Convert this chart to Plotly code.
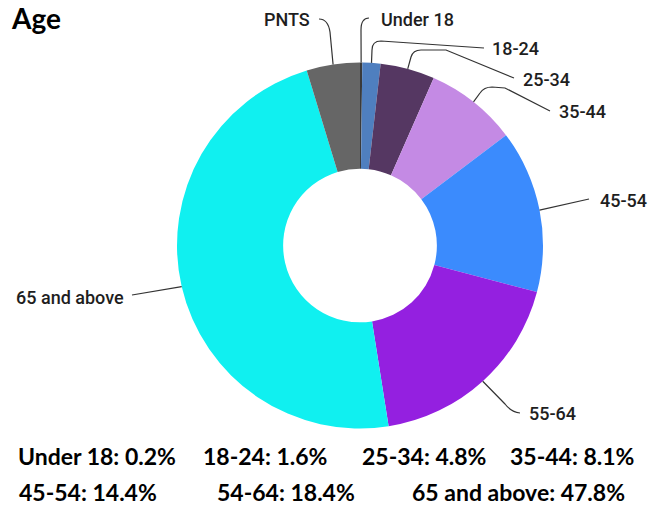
import math
import plotly.graph_objects as go

# ---- data ----
categories = ["Under 18", "18-24", "25-34", "35-44", "45-54", "55-64", "65 and above", "PNTS"]
values = [0.2, 1.6, 4.8, 8.1, 14.4, 18.4, 47.8, 4.7]
colors = ["#3a3a3a", "#4f7fbf", "#553762", "#c48ae4", "#3b8bfd", "#9420e0", "#10f0f0", "#666666"]
summary_row1 = ["Under 18: 0.2%", "18-24: 1.6%", "25-34: 4.8%", "35-44: 8.1%"]
summary_row2 = ["45-54: 14.4%", "54-64: 18.4%", "65 and above: 47.8%"]

W, H = 652, 506
CX, CY, R = 360, 245.5, 183


def px(x):
    return x / W


def py(y):
    return 1 - y / H


fig = go.Figure()
fig.add_trace(go.Pie(
    labels=categories, values=values, hole=0.42, sort=False,
    direction="clockwise", rotation=0,
    marker=dict(colors=colors, line=dict(width=0)),
    textinfo="none", hoverinfo="label+percent", showlegend=False,
    domain=dict(x=[px(CX - R), px(CX + R)], y=[py(CY + R), py(CY - R)]),
))

# anchors at outer edge, mid-angle of each slice
total = sum(values)
anchors = []
cum = 0
for v in values:
    a = 2 * math.pi * (cum + v / 2) / total
    anchors.append((CX + R * math.sin(a), CY - R * math.cos(a)))
    cum += v

# leader-line continuations and label placement (layout)
leaders = {
    "Under 18": ([("L", 361, 30), ("Q", 361, 18, 369, 18)], 379, 20, "left"),
    "18-24": ([("L", 372, 50), ("Q", 372, 41, 381, 41), ("L", 484, 48)], 490, 48, "left"),
    "25-34": ([("L", 411, 57), ("Q", 413, 50, 421, 50), ("L", 446, 50), ("L", 514, 78)], 521, 79, "left"),
    "35-44": ([("L", 480, 93), ("Q", 484, 87, 492, 87), ("L", 505, 88), ("L", 550, 111)], 557, 111, "left"),
    "45-54": ([("L", 589, 199)], 598, 201, "left"),
    "55-64": ([("L", 505, 404), ("Q", 511, 412, 520, 413)], 527, 413, "left"),
    "65 and above": ([("L", 132, 295)], 126, 297, "right"),
    "PNTS": ([("L", 330, 32), ("Q", 328, 19, 319, 19)], 312, 20, "right"),
}

shapes = []
annotations = []
for name, (ax, ay) in zip(categories, anchors):
    segs, tx, ty, side = leaders[name]
    path = f"M {px(ax)} {py(ay)}"
    for s in segs:
        if s[0] == "L":
            path += f" L {px(s[1])} {py(s[2])}"
        else:
            path += f" Q {px(s[1])} {py(s[2])} {px(s[3])} {py(s[4])}"
    shapes.append(dict(type="path", path=path, xref="paper", yref="paper",
                       line=dict(color="#333333", width=1.2)))
    annotations.append(dict(
        text=name, x=px(tx), y=py(ty), xref="paper", yref="paper",
        xanchor=side, yanchor="middle", showarrow=False,
        font=dict(family="Roboto", size=18, color="#1e1e1e", weight=500),
    ))

# title
annotations.append(dict(text="<b>Age</b>", x=px(10), y=py(18), xref="paper", yref="paper",
                        xanchor="left", yanchor="middle", showarrow=False, borderpad=0,
                        font=dict(family="Lato", size=28, color="#000000")))

row1_x = [97, 265, 424, 572]
row2_x = [88, 286, 518]
for t, x in zip(summary_row1, row1_x):
    annotations.append(dict(text=f"<b>{t}</b>", x=px(x), y=py(456), xref="paper", yref="paper",
                            xanchor="center", yanchor="middle", showarrow=False, borderpad=0,
                            font=dict(family="Lato", size=23, color="#000000")))
for t, x in zip(summary_row2, row2_x):
    annotations.append(dict(text=f"<b>{t}</b>", x=px(x), y=py(492), xref="paper", yref="paper",
                            xanchor="center", yanchor="middle", showarrow=False, borderpad=0,
                            font=dict(family="Lato", size=23, color="#000000")))

fig.update_layout(
    width=W, height=H, margin=dict(l=0, r=0, t=0, b=0),
    paper_bgcolor="white", plot_bgcolor="white",
    shapes=shapes, annotations=annotations,
)
fig.write_html("out.html", config={"displayModeBar": False},
               post_script="document.body.style.margin='0px';")
